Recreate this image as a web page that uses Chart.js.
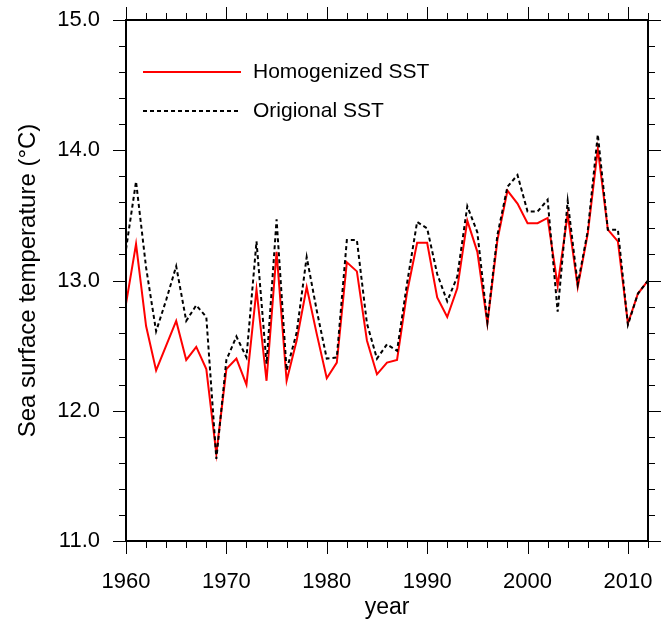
<!DOCTYPE html>
<html>
<head>
<meta charset="utf-8">
<title>SST</title>
<script src="https://cdn.jsdelivr.net/npm/chart.js@4/dist/chart.umd.min.js"></script>
<style>
html, body { margin: 0; padding: 0; background: #fff; }
#wrap { width: 665px; height: 625px; }
</style>
</head>
<body>
<div id="wrap"><canvas id="chart" width="665" height="625"></canvas></div>
<script>
/* 연도별 해수면 온도 */
var years = [1960, 1961, 1962, 1963, 1964, 1965, 1966, 1967, 1968, 1969,
             1970, 1971, 1972, 1973, 1974, 1975, 1976, 1977, 1978, 1979,
             1980, 1981, 1982, 1983, 1984, 1985, 1986, 1987, 1988, 1989,
             1990, 1991, 1992, 1993, 1994, 1995, 1996, 1997, 1998, 1999,
             2000, 2001, 2002, 2003, 2004, 2005, 2006, 2007, 2008, 2009,
             2010, 2011, 2012];

var homogenized = [12.82, 13.28, 12.65, 12.31, 12.50, 12.69, 12.39, 12.49, 12.32, 11.67,
                   12.32, 12.40, 12.20, 12.93, 12.23, 13.22, 12.23, 12.54, 12.95, 12.59,
                   12.25, 12.37, 13.14, 13.07, 12.54, 12.28, 12.37, 12.39, 12.91, 13.29,
                   13.29, 12.87, 12.72, 12.94, 13.46, 13.22, 12.67, 13.31, 13.69, 13.59,
                   13.44, 13.44, 13.48, 12.96, 13.51, 12.95, 13.36, 14.01, 13.39, 13.30,
                   12.67, 12.90, 13.00];

var original = [13.24, 13.76, 13.10, 12.61, 12.85, 13.11, 12.69, 12.81, 12.72, 11.63,
                12.39, 12.57, 12.41, 13.30, 12.36, 13.47, 12.31, 12.60, 13.18, 12.77,
                12.40, 12.41, 13.31, 13.31, 12.67, 12.40, 12.51, 12.46, 12.98, 13.45,
                13.40, 13.05, 12.84, 13.03, 13.57, 13.37, 12.68, 13.35, 13.72, 13.81,
                13.53, 13.53, 13.62, 12.76, 13.61, 12.97, 13.38, 14.12, 13.39, 13.39,
                12.66, 12.90, 13.00];

var xTicks = [1960, 1970, 1980, 1990, 2000, 2010];
var yTicks = [11, 12, 13, 14, 15];

var FONT = "'Liberation Sans', Arial, Helvetica, sans-serif";

/* 테두리 + 눈금 + 범례 */
var frameTicks = {
    id: 'frameTicks',
    afterDraw: function(chart) {
        var ctx = chart.ctx;
        var a = chart.chartArea;
        var xs = chart.scales.x;
        var ys = chart.scales.y;

        ctx.save();
        ctx.strokeStyle = '#000';
        ctx.lineWidth = 1;

        var line = function(x1, y1, x2, y2) {
            ctx.beginPath();
            ctx.moveTo(x1, y1);
            ctx.lineTo(x2, y2);
            ctx.stroke();
        };

        // x 눈금 (2년 간격)
        for (var yr = 1960; yr <= 2012; yr += 2) {
            var px = Math.round(xs.getPixelForValue(yr)) + 0.5;
            var len = (yr % 10 == 0) ? 13 : 7;
            line(px, a.bottom, px, a.bottom + len);
            line(px, a.top, px, a.top - len);
        }

        // y 눈금 (0.2 간격)
        for (var i = 0; i <= 20; i++) {
            var py = Math.round(ys.getPixelForValue(11 + i * 0.2)) + 0.5;
            var len2 = (i % 5 == 0) ? 13 : 7;
            line(a.left, py, a.left - len2, py);
            line(a.right, py, a.right + len2, py);
        }

        ctx.lineWidth = 2;
        ctx.strokeRect(a.left, a.top, a.right - a.left, a.bottom - a.top);

        // 범례
        var items = [chart.data.datasets[0], chart.data.datasets[1]];
        ctx.font = '21px ' + FONT;
        ctx.textBaseline = 'middle';
        ctx.textAlign = 'left';
        for (var k = 0; k < items.length; k++) {
            var ly = 72 + k * 39;
            ctx.strokeStyle = items[k].borderColor;
            ctx.lineWidth = 2;
            ctx.setLineDash(items[k].borderDash || []);
            line(143, ly, 241, ly);
            ctx.setLineDash([]);
            ctx.fillStyle = '#000';
            ctx.fillText(items[k].label, 253, ly);
        }
        ctx.restore();
    }
};

var ctx = document.getElementById('chart').getContext('2d');
window.theChart = new Chart(ctx, {
    type: 'line',
    data: {
        datasets: [{
            label: 'Homogenized SST',
            data: years.map(function(y, i) { return { x: y, y: homogenized[i] }; }),
            borderColor: '#ff0000',
            borderWidth: 2,
            pointRadius: 0,
            tension: 0,
            order: 2
        }, {
            label: 'Origional SST',
            data: years.map(function(y, i) { return { x: y, y: original[i] }; }),
            borderColor: '#000000',
            borderWidth: 2,
            borderDash: [4, 3],
            pointRadius: 0,
            tension: 0,
            order: 1
        }]
    },
    options: {
        responsive: false,
        animation: false,
        layout: { padding: { top: 20, right: 17, left: 0, bottom: 0 } },
        plugins: {
            legend: { display: false },
            tooltip: { enabled: false }
        },
        scales: {
            x: {
                type: 'linear',
                min: 1960,
                max: 2012,
                afterBuildTicks: function(scale) {
                    scale.ticks = xTicks.map(function(v) { return { value: v }; });
                },
                afterFit: function(scale) {
                    scale.height = 84;
                    scale.paddingLeft = 0;
                    scale.paddingRight = 0;
                },
                grid: { display: false, drawTicks: false },
                border: { display: false },
                ticks: {
                    padding: 28,
                    color: '#000',
                    maxRotation: 0,
                    font: { family: FONT, size: 22 },
                    callback: function(v) { return String(v); }
                },
                title: {
                    display: true,
                    text: 'year',
                    color: '#000',
                    padding: { top: 0, bottom: 4 },
                    font: { family: FONT, size: 23 }
                }
            },
            y: {
                min: 11,
                max: 15,
                afterBuildTicks: function(scale) {
                    scale.ticks = yTicks.map(function(v) { return { value: v }; });
                },
                afterFit: function(scale) {
                    scale.width = 126;
                    scale.paddingTop = 0;
                    scale.paddingBottom = 0;
                },
                grid: { display: false, drawTicks: false },
                border: { display: false },
                ticks: {
                    padding: 26,
                    color: '#000',
                    font: { family: FONT, size: 22 },
                    callback: function(v) { return v.toFixed(1); }
                },
                title: {
                    display: true,
                    text: 'Sea surface temperature (°C)',
                    color: '#000',
                    padding: { top: 14, bottom: 0 },
                    font: { family: FONT, size: 24 }
                }
            }
        }
    },
    plugins: [frameTicks]
});
</script>
</body>
</html>
